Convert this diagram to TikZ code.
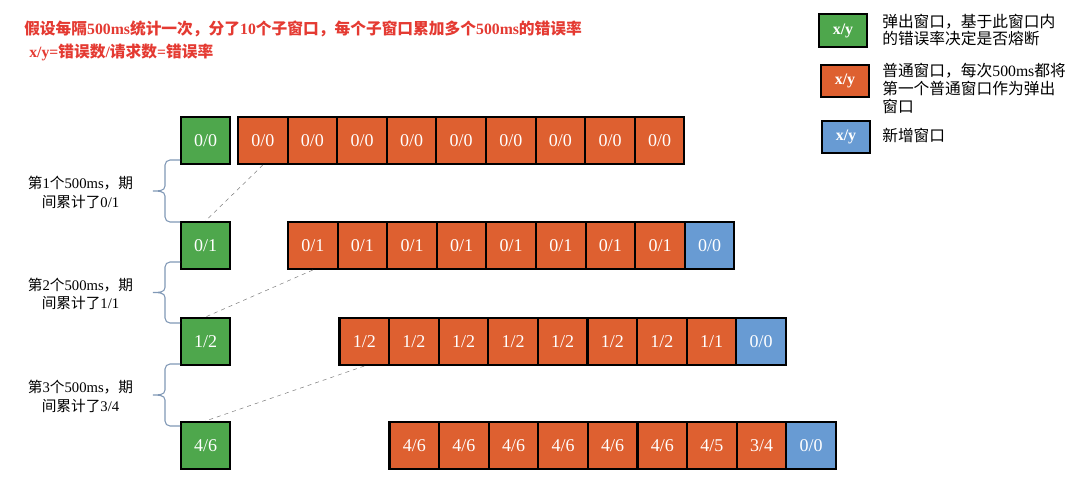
\documentclass[tikz,border=0pt]{standalone}
\usepackage{fontspec}
\setmainfont{Liberation Serif}
\newfontfamily\cjk{Noto Sans CJK SC}
\newcommand\zh[1]{{\cjk #1}}

\definecolor{popgreen}{RGB}{78,167,76}
\definecolor{winorange}{RGB}{222,96,48}
\definecolor{newblue}{RGB}{104,155,211}
\definecolor{titlered}{RGB}{228,58,50}
\definecolor{bracegray}{RGB}{128,152,182}

\begin{document}
\begin{tikzpicture}[x=0.75pt, y=-0.75pt,
  box/.style={draw=black, line width=1.6pt, minimum width=37.2pt, minimum height=35.2pt,
              inner sep=0pt, text=white, font=\fontsize{13.5}{13.5}\selectfont},
  pop/.style={box, fill=popgreen, minimum width=36.8pt},
  win/.style={box, fill=winorange},
  new/.style={box, fill=newblue},
  keybox/.style={draw=black, line width=1.6pt, minimum width=36pt, minimum height=24.5pt,
                 inner sep=0pt, text=white, font=\bfseries\fontsize{12}{12}\selectfont},
  headline/.style={anchor=west, inner sep=0pt, text=titlered, font=\bfseries\fontsize{11.8}{12}\selectfont},
  note/.style={font=\fontsize{11}{14}\selectfont, align=center, inner sep=0pt},
  keytext/.style={font=\fontsize{11.8}{13.4}\selectfont, align=left, anchor=west, inner sep=0pt},
  link/.style={gray, dashed, thin},
  curly/.style={bracegray, line width=0.8pt}]

\useasboundingbox (0,0) rectangle (1071,487);

% TITLE
  \node[headline] (title1) at (24,28.5)
    {\zh{假设每隔}500ms\zh{统计一次，分了}10\zh{个子窗口，每个子窗口累加多个}500ms\zh{的错误率}};
  \node[headline] (title2) at (29,52.5) {x/y=\zh{错误数}/\zh{请求数}=\zh{错误率}};

% LEGEND
  \node[keybox, fill=popgreen]  (kpop) at (843,30.5) {x/y};
  \node[keytext] (tpop) at (882,30) {\zh{弹出窗口，基于此窗口内}\\\zh{的错误率决定是否熔断}};
  \node[keybox, fill=winorange] (kwin) at (845,81) {x/y};
  \node[keytext] (twin) at (882,88.5) {\zh{普通窗口，每次}500ms\zh{都将}\\\zh{第一个普通窗口作为弹出}\\\zh{窗口}};
  \node[keybox, fill=newblue]   (knew) at (846,137) {x/y};
  \node[keytext] (tnew) at (882,135) {\zh{新增窗口}};

% Row 1
  \node[pop] (g1) at (205.5,140.5) {0/0};
  \foreach \k in {1,...,9}
      \node[win] (o1-\k) at ({262.8+49.6*(\k-1)},140.5) {0/0};

% Row 2
  \node[pop] (g2) at (205.5,245.5) {0/1};
  \foreach \k in {1,...,8}
      \node[win] (o2-\k) at ({312.8+49.6*(\k-1)},245.5) {0/1};
  \node[new] (b2) at ({312.8+49.6*8},245.5) {0/0};

% Row 3
  \node[pop] (g3) at (205.5,341.5) {1/2};
  \foreach \k in {1,...,7}
      \node[win] (o3-\k) at ({364.3+49.6*(\k-1)},341.5) {1/2};
  \node[win] (o3-8) at ({364.3+49.6*7},341.5) {1/1};
  \node[new] (b3) at ({364.3+49.6*8},341.5) {0/0};

% Row 4
  \node[pop] (g4) at (205.5,445.5) {4/6};
  \foreach \k in {1,...,6}
      \node[win] (o4-\k) at ({414.3+49.6*(\k-1)},445.5) {4/6};
  \node[win] (o4-7) at ({414.3+49.6*6},445.5) {4/5};
  \node[win] (o4-8) at ({414.3+49.6*7},445.5) {3/4};
  \node[new] (b4) at ({414.3+49.6*8},445.5) {0/0};

% dashed links, first window pops out
  \draw[link] (o1-1.south) -- (g2.north);
  \draw[link] (o2-1.south) -- (g3.north);
  \draw[link] (o3-1.south) -- (g4.north);

% braces
  \foreach \t/\b in {160/222, 262/323, 364/426} {
      \pgfmathsetmacro\m{(\t+\b)/2}
      \draw[curly] (180,\t) -- (170,\t) to[out=180,in=90] (165,\t+5) -- (165,\m-5)
          to[out=-90,in=0] (153,\m) to[out=0,in=90] (165,\m+5) -- (165,\b-5)
          to[out=-90,in=180] (170,\b) -- (180,\b);
  }

% notes
  \node[note] (lab1) at (80.5,192.2) {\zh{第}1\zh{个}500ms\zh{，期}\\\zh{间累计了}0/1};
  \node[note] (lab2) at (80.5,294)   {\zh{第}2\zh{个}500ms\zh{，期}\\\zh{间累计了}1/1};
  \node[note] (lab3) at (80.5,396.3) {\zh{第}3\zh{个}500ms\zh{，期}\\\zh{间累计了}3/4};

\end{tikzpicture}
\end{document}
